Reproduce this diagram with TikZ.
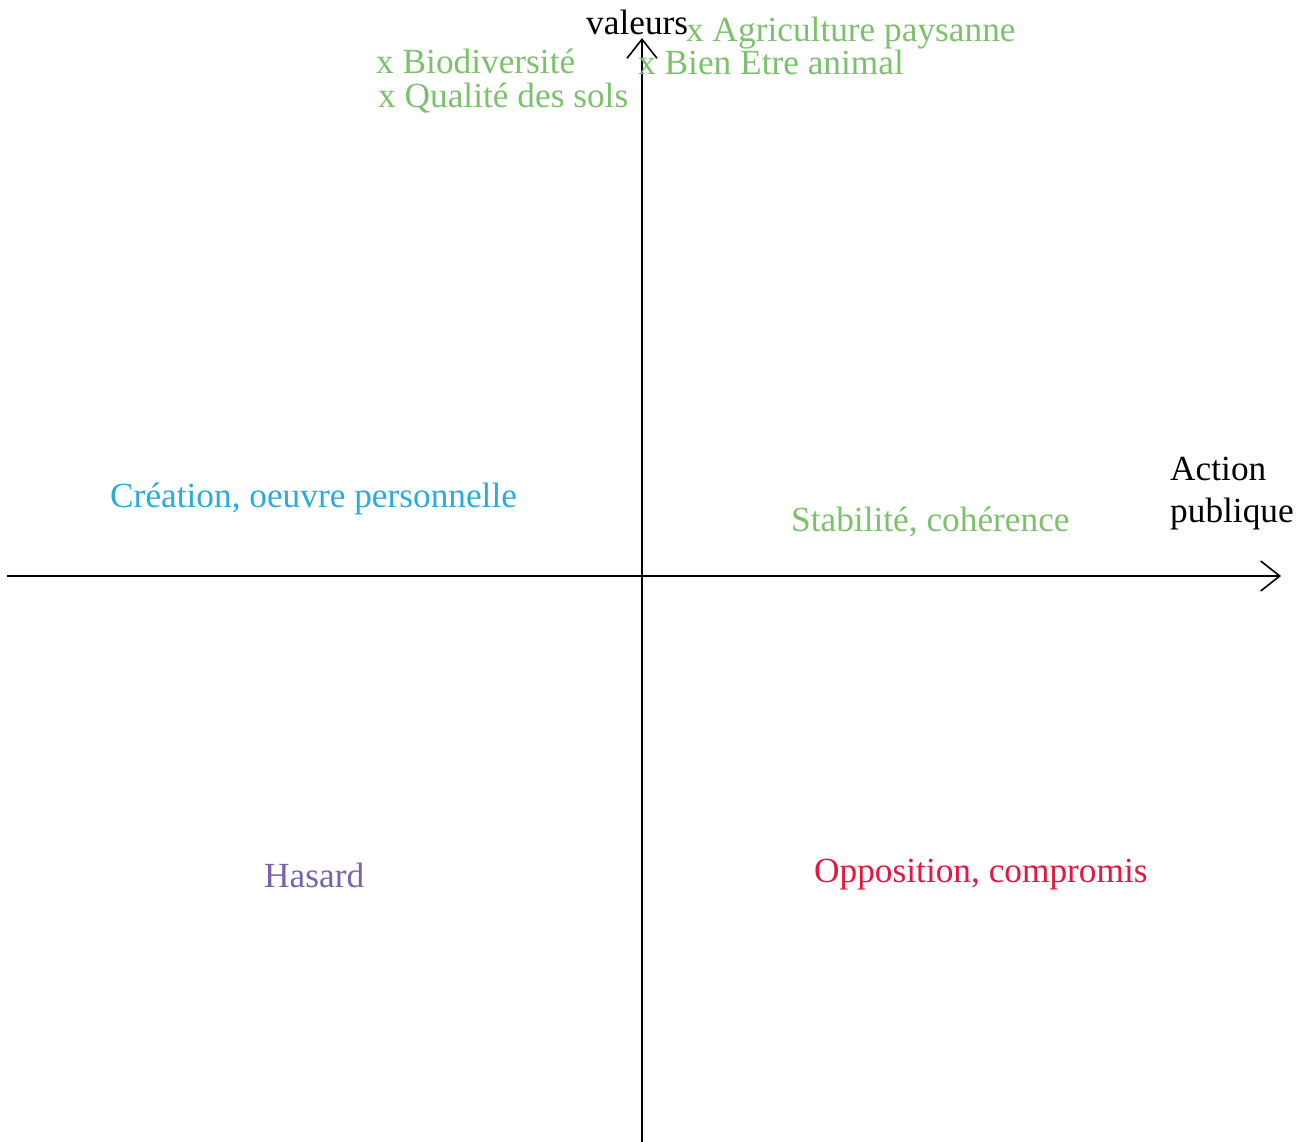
\documentclass[tikz,border=0pt]{standalone}
\usepackage{fontspec}
\setmainfont{Liberation Serif}
\usetikzlibrary{arrows.meta}
\definecolor{vgreen}{RGB}{124,194,108}
\definecolor{vblue}{RGB}{41,171,226}
\definecolor{vpurple}{RGB}{123,98,173}
\definecolor{vred}{RGB}{229,23,63}
\begin{document}
\begin{tikzpicture}[x=1pt,y=-1pt,
  lbl/.style={anchor=base west,inner sep=0pt,font=\fontsize{35.3}{40}\selectfont},
  axis/.style={line width=1.6pt,-{Straight Barb[length=19pt,width=30pt,line width=1.6pt]}}]
\useasboundingbox[fill=white] (0,0) rectangle (1311,1142);
\coordinate (xs) at (7,576);
\coordinate (xe) at (1281,576);
\coordinate (ys) at (642,1142);
\coordinate (ye) at (642,38);
\draw[axis] (xs) -- (xe);
\draw[axis] (ys) -- (ye);
\node[lbl] (val) at (586,35) {valeurs};
\node[lbl,text=vgreen] (agri) at (686,42) {x Agriculture paysanne};
\node[lbl,text=vgreen] (bio) at (376,74) {x Biodiversité};
\node[lbl,text=vgreen] (bea) at (638,75) {x Bien Etre animal};
\node[lbl,text=vgreen] (sol) at (378,108) {x Qualité des sols};
\node[lbl] (act) at (1170,480) {Action};
\node[lbl] (pub) at (1170,522) {publique};
\node[lbl,text=vblue] (crea) at (110,507) {Création, oeuvre personnelle};
\node[lbl,text=vgreen] (stab) at (791,531) {Stabilité, cohérence};
\node[lbl,text=vpurple] (has) at (264,887) {Hasard};
\node[lbl,text=vred] (opp) at (814,882) {Opposition, compromis};
\end{tikzpicture}
\end{document}
